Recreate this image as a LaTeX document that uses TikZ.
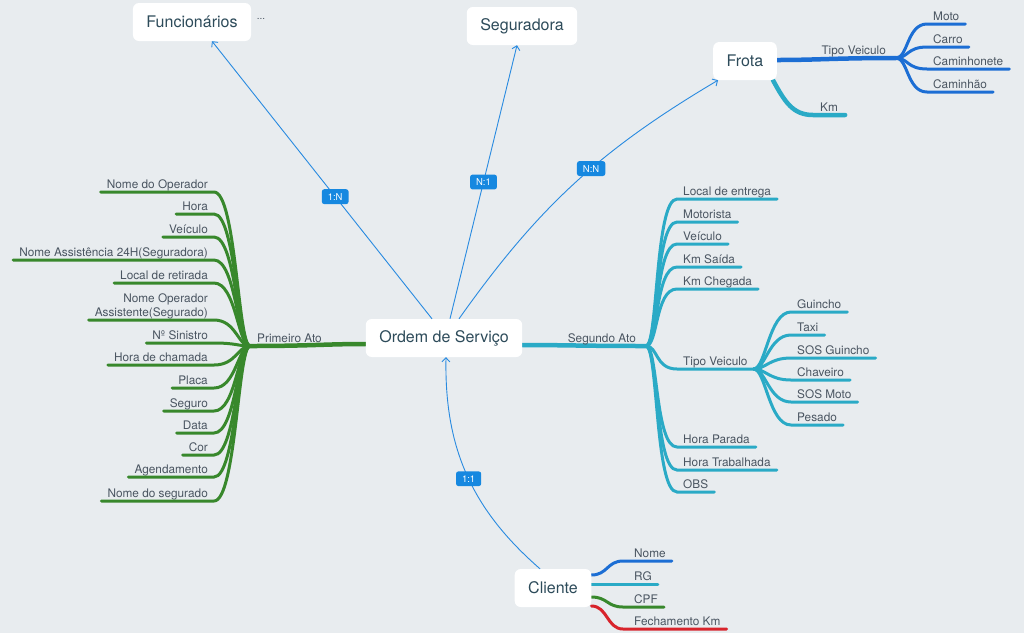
\documentclass[tikz,border=0pt]{standalone}
\usepackage{fontspec}
\setmainfont{TeX Gyre Heros}
\usetikzlibrary{arrows.meta,backgrounds}

\definecolor{bg}{RGB}{232,236,239}
\definecolor{topictext}{RGB}{45,75,90}
\definecolor{leaftext}{RGB}{74,85,97}
\definecolor{relblue}{RGB}{40,138,224}
\definecolor{tagblue}{RGB}{22,136,224}
\definecolor{bgreen}{RGB}{56,136,44}
\definecolor{bcyan}{RGB}{42,170,198}
\definecolor{bblue}{RGB}{28,110,212}
\definecolor{bred}{RGB}{216,36,44}

\tikzset{
  topic/.style={fill=white, rounded corners=6pt, minimum height=38pt, inner xsep=13.5pt,
    text=topictext, font=\fontsize{16}{19}\selectfont},
  leaf/.style={inner xsep=6pt, inner ysep=3.5pt, text depth=0pt, text=leaftext,
    font=\fontsize{11.8}{14}\selectfont},
  branch/.style={line width=3pt, line cap=round},
  trunk/.style={line width=4.5pt, line cap=round},
  rel/.style={relblue, line width=0.9pt, -{Straight Barb[length=4pt,width=8pt]}},
  tag/.style={fill=tagblue, text=white, rounded corners=2.5pt, inner xsep=6pt, inner ysep=4pt,
    font=\fontsize{9.5}{10}\selectfont},
}

\begin{document}
\begin{tikzpicture}[x=1pt, y=-1pt]
  \begin{scope}[on background layer]
    \fill[bg] (0,0) rectangle (1024,633);
  \end{scope}

  % topics
  \node[topic] (os) at (444,338) {Ordem de Serviço};
  \node[topic] (fu) at (192,22) {Funcionários};
  \node[text=leaftext, font=\fontsize{10}{10}\selectfont] (fm) at (261,19) {...};
  \node[topic] (sg) at (522,26) {Seguradora};
  \node[topic] (fr) at (745,61) {Frota};
  \node[topic] (cl) at (553,588) {Cliente};

  % relations
  \draw[rel] ([xshift=-12pt]os.north) -- node[tag, pos=0.44] (t1) {1:N} ([xshift=20pt]fu.south);
  \draw[rel] ([xshift=6pt]os.north) -- node[tag, pos=0.5] (t2) {N:1} ([xshift=-5pt]sg.south);
  \draw[rel] ([xshift=15pt]os.north) to[bend left=12] node[tag, pos=0.57] (t3) {N:N}
    ([xshift=5pt]fr.south west);
  \draw[rel] ([xshift=-13pt]cl.north) to[bend left=25] node[tag, pos=0.48] (t4) {1:1}
    ([xshift=2pt]os.south);

  % branch labels
  \node[leaf, anchor=south west, inner xsep=7pt] (pa) at (250,346) {Primeiro Ato};
  \node[leaf, anchor=south east, inner xsep=10pt] (sa) at (646,346) {Segundo Ato};
  \node[leaf, anchor=south east, inner xsep=10pt] (ft) at (896,58) {Tipo Veiculo};
  \node[leaf, anchor=south west, inner xsep=7pt] (fk) at (813,115) {Km};

  \begin{scope}[on background layer]
    \draw[trunk, bgreen] (pa.south west) .. controls +(60,0) and +(-40,0) .. ([yshift=-6pt]os.west);
    \draw[trunk, bcyan] ([yshift=-7pt]os.east) .. controls +(40,0) and +(-60,0) .. (sa.south east);
    \draw[trunk, bblue] ([yshift=1pt]fr.east) .. controls +(40,0) and +(-60,0) .. (ft.south east);
    \draw[trunk, bcyan] ([xshift=-4pt]fr.south east) .. controls +(12,22) and +(-20,0) .. (fk.south west)
      -- (fk.south east);

    % Primeiro Ato
    \foreach \n/\y/\txt in {l1/192/Nome do Operador, l2/214/Hora, l3/237/Veículo,
        l4/260/Nome Assistência 24H(Seguradora), l5/283/Local de retirada,
        l6/320/{\begin{tabular}[b]{@{}r@{}}Nome Operador\\Assistente(Segurado)\end{tabular}},
        l7/343/Nº Sinistro, l8/365/Hora de chamada, l9/388/Placa, l10/411/Seguro,
        l11/433/Data, l12/455/Cor, l13/477/Agendamento, l14/501/Nome do segurado} {
      \node[leaf, anchor=south east] (\n) at (214,\y) {\txt};
      \draw[branch, bgreen] (pa.south west) .. controls +(-12,0) and +(22,0) .. (\n.south east)
        -- (\n.south west);
    }

    % Segundo Ato
    \foreach \n/\y/\txt in {r1/199/Local de entrega, r2/222/Motorista, r3/244/Veículo,
        r4/267/Km Saída, r5/289/Km Chegada, rt/369/Tipo Veiculo, r7/447/Hora Parada,
        r8/470/Hora Trabalhada, r9/492/OBS} {
      \node[leaf, anchor=south west] (\n) at (677,\y) {\txt};
      \draw[branch, bcyan] (sa.south east) .. controls +(12,0) and +(-22,0) .. (\n.south west)
        -- (\n.south east);
    }
    \foreach \n/\y/\txt in {v1/312/Guincho, v2/335/Taxi, v3/358/SOS Guincho,
        v4/380/Chaveiro, v5/402/SOS Moto, v6/425/Pesado} {
      \node[leaf, anchor=south west] (\n) at (791,\y) {\txt};
      \draw[branch, bcyan] (rt.south east) .. controls +(12,0) and +(-22,0) .. (\n.south west)
        -- (\n.south east);
    }

    % Frota
    \foreach \n/\y/\txt in {f1/24/Moto, f2/47/Carro, f3/69/Caminhonete, f4/92/Caminhão} {
      \node[leaf, anchor=south west] (\n) at (927,\y) {\txt};
      \draw[branch, bblue] (ft.south east) .. controls +(12,0) and +(-20,0) .. (\n.south west)
        -- (\n.south east);
    }

    % Cliente
    \foreach \n/\col/\dy/\y/\txt in {cn/bblue/13/561/Nome, cr/bcyan/4/584/RG,
        cc/bgreen/-9/607/CPF, cf/bred/-18/629/Fechamento Km} {
      \node[leaf, anchor=south west] (\n) at (628,\y) {\txt};
      \draw[branch, \col] ([yshift=\dy pt]cl.east) .. controls +(16,0) and +(-16,0) ..
        ([xshift=-5pt]\n.south west) -- (\n.south east);
    }
  \end{scope}
\end{tikzpicture}
\end{document}
